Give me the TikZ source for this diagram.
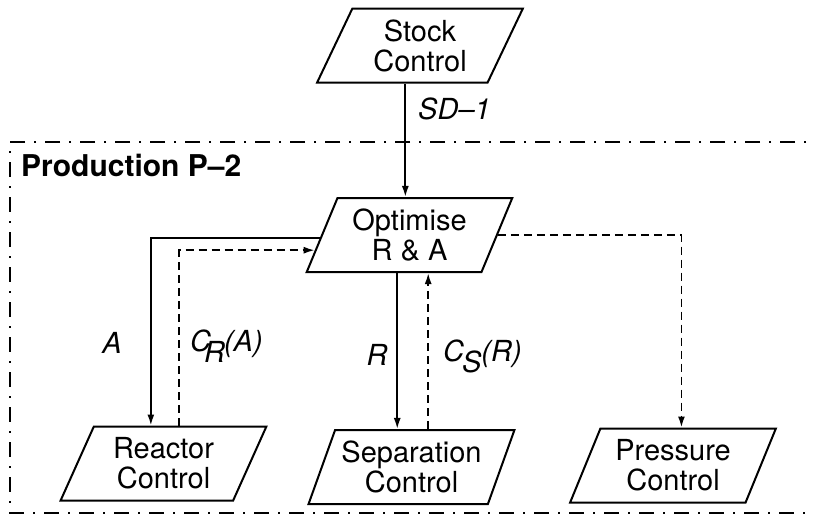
\documentclass[tikz,border=0pt]{standalone}
\usepackage{fontspec}
\setmainfont{TeX Gyre Heros}
\usetikzlibrary{shapes.geometric,arrows.meta,calc}

\begin{document}
\begin{tikzpicture}[x=1pt,y=-1pt,
  box/.style={trapezium, trapezium left angle=65, trapezium right angle=115,
    trapezium stretches=true, draw, line width=2pt,
    minimum width=206pt, minimum height=74pt, inner sep=0pt, align=center,
    font=\fontsize{29}{30}\selectfont},
  flow/.style={line width=1.8pt, -{Latex[length=11pt,width=7pt]}},
  back/.style={flow, dash pattern=on 8pt off 5pt},
  lab/.style={font=\fontsize{29}{30}\selectfont\itshape, inner sep=0pt},
  zone/.style={line width=1.8pt, dash pattern=on 15pt off 9pt on 2pt off 9pt}]
\useasboundingbox (0,0) rectangle (814,520);
\clip (0,0) rectangle (814,520);

% production boundary (open to the right)
\draw[zone] (830,142) -- (10,142) -- (10,513) -- (830,513);
\node[font=\fontsize{30}{30}\selectfont\bfseries, anchor=base west, inner sep=0pt]
  (zonetitle) at (21,176) {Production P--2};

% control blocks
\node[box] (stock) at (420,45.5)  {Stock\\Control};
\node[box] (opt)   at (409.5,235) {Optimise\\R \& A};
\node[box] (reac)  at (163.5,463.5) {Reactor\\Control};
\node[box] (sep)   at (411.5,467) {Separation\\Control};
\node[box] (pres)  at (673,465.5) {Pressure\\Control};

% connection points along the block edges
\coordinate (sdout) at ($(stock.bottom left corner)!0.52!(stock.bottom right corner)$);
\coordinate (aout)  at ($(opt.top left corner)!0.54!(opt.bottom left corner)$);
\coordinate (ain)   at ($(reac.top left corner)!0.33!(reac.top right corner)$);
\coordinate (crout) at ($(reac.top left corner)!0.49!(reac.top right corner)$);
\coordinate (crin)  at ($(opt.top left corner)!0.70!(opt.bottom left corner)$);
\coordinate (rout)  at ($(opt.bottom left corner)!0.52!(opt.bottom right corner)$);
\coordinate (csin)  at ($(opt.bottom left corner)!0.695!(opt.bottom right corner)$);
\coordinate (pin)   at ($(pres.top left corner)!0.46!(pres.top right corner)$);

% signals
\draw[flow] (sdout) -- (sdout |- opt.north);
\draw[flow] (aout) -| (ain);
\draw[back] (crout) |- (crin);
\draw[flow] (rout) -- (rout |- sep.north);
\draw[back] (csin |- sep.north) -- (csin);
\draw[back] (opt.east) -| (pin);

% signal labels
\node[lab, anchor=base west] (sdlab) at (418,119) {SD--1};
\node[lab, anchor=base] (alab) at (112,353) {A};
\node[lab, anchor=base west] (crlab) at (190,351) {C\kern-7pt\raisebox{-11pt}{R}\kern-1pt(A)};
\node[lab, anchor=base] (rlab) at (377,365) {R};
\node[lab, anchor=base west] (cslab) at (443,361) {C\kern-2pt\raisebox{-11pt}{S}(R)};
\end{tikzpicture}
\end{document}
